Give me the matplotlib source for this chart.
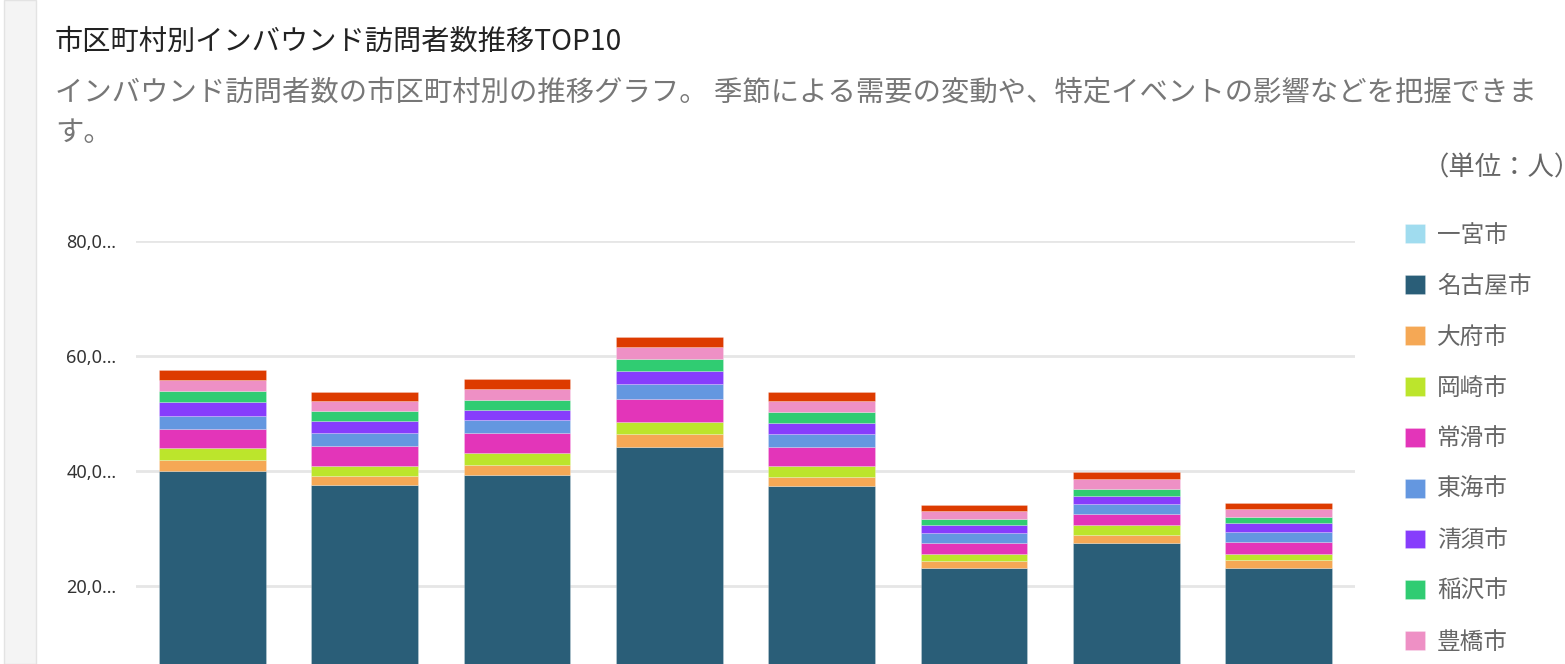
import matplotlib.pyplot as plt
import numpy as np
from matplotlib.patches import Rectangle

plt.rcParams['font.family'] = ['Noto Sans CJK JP', 'DejaVu Sans']

# months (x labels fall below the visible area)
months = ['2023/10', '2023/11', '2023/12', '2024/01', '2024/02', '2024/03', '2024/04', '2024/05']

# stacked series, bottom to top
cities = ['一宮市', '名古屋市', '大府市', '岡崎市', '常滑市', '東海市', '清須市', '稲沢市', '豊橋市', '豊田市']
ichinomiya = [1200, 1100, 1150, 1300, 1100, 800, 900, 800]
nagoya = [38750, 36410, 38100, 42820, 36240, 22280, 26580, 22280]
obu = [1910, 1670, 1740, 2260, 1670, 1320, 1440, 1390]
okazaki = [2090, 1740, 2090, 2090, 1810, 1110, 1740, 1150]
tokoname = [3300, 3370, 3480, 4000, 3410, 2020, 1860, 2090]
tokai = [2260, 2370, 2260, 2610, 2160, 1740, 1790, 1740]
kiyosu = [2490, 1980, 1740, 2260, 2020, 1390, 1340, 1460]
inazawa = [1860, 1740, 1740, 2090, 1910, 1040, 1160, 1150]
toyohashi = [1910, 1740, 1910, 2090, 1810, 1290, 1790, 1290]
toyota = [1790, 1620, 1740, 1740, 1620, 1040, 1270, 1040]

series = [ichinomiya, nagoya, obu, okazaki, tokoname, tokai, kiyosu, inazawa, toyohashi, toyota]
colors = ['#a0dcef', '#2a5e78', '#f5a855', '#bce52c', '#e335b9', '#6497e0',
          '#873dfc', '#30cc72', '#ee90c5', '#dd3b00']

fig = plt.figure(figsize=(15.65, 6.64), dpi=100)

# grey side strip of the page
fig.add_artist(Rectangle((4 / 1565, 0), 32 / 1565, 1, transform=fig.transFigure,
                         facecolor='#f4f4f4', edgecolor='#e3e3e3', lw=1))

ax = fig.add_axes([136 / 1565, -37 / 664, 1219 / 1565, 460 / 664])

x = np.arange(len(months))
bottom = np.zeros(len(months))
for name, vals, c in zip(cities, series, colors):
    ax.bar(x, vals, 0.7, bottom=bottom, color=c, label=name,
           edgecolor='#ffffff40', linewidth=0.6)
    bottom += np.array(vals)

ax.set_xlim(-0.5, len(months) - 0.5)
ax.set_ylim(0, 80000)
ax.set_yticks([0, 20000, 40000, 60000, 80000])
ax.set_yticklabels(['0', '20,0…', '40,0…', '60,0…', '80,0…'],
                   fontsize=13, color='#333333', family=['Noto Sans', 'DejaVu Sans'])
ax.set_xticks(x)
ax.set_xticklabels(months)
ax.tick_params(length=0, pad=14, labelbottom=False)
ax.grid(axis='y', color='#e6e6e6', lw=2)
ax.set_axisbelow(True)
for s in ax.spines.values():
    s.set_visible(False)

fig.text(55 / 1565, 1 - 42 / 664, '市区町村別インバウンド訪問者数推移TOP10',
         fontsize=20.3, color='#222222', va='center', ha='left')
fig.text(55 / 1565, 1 - 77 / 664,
         'インバウンド訪問者数の市区町村別の推移グラフ。 季節による需要の変動や、特定イベントの影響などを把握できま\nす。',
         fontsize=20.4, color='#777777', va='top', ha='left', linespacing=1.47)
fig.text(1423 / 1565, 1 - 168 / 664, '（単位：人）', fontsize=19, color='#666666',
         va='center', ha='left')

leg = ax.legend(loc='upper left', bbox_to_anchor=(1405 / 1565, 1 - 224 / 664),
                bbox_transform=fig.transFigure, frameon=False, fontsize=17,
                handlelength=0.85, handleheight=0.85, handletextpad=0.5,
                labelspacing=1.18, borderpad=0, borderaxespad=0)
for t in leg.get_texts():
    t.set_color('#666666')

fig.savefig('out.png', dpi=100)
